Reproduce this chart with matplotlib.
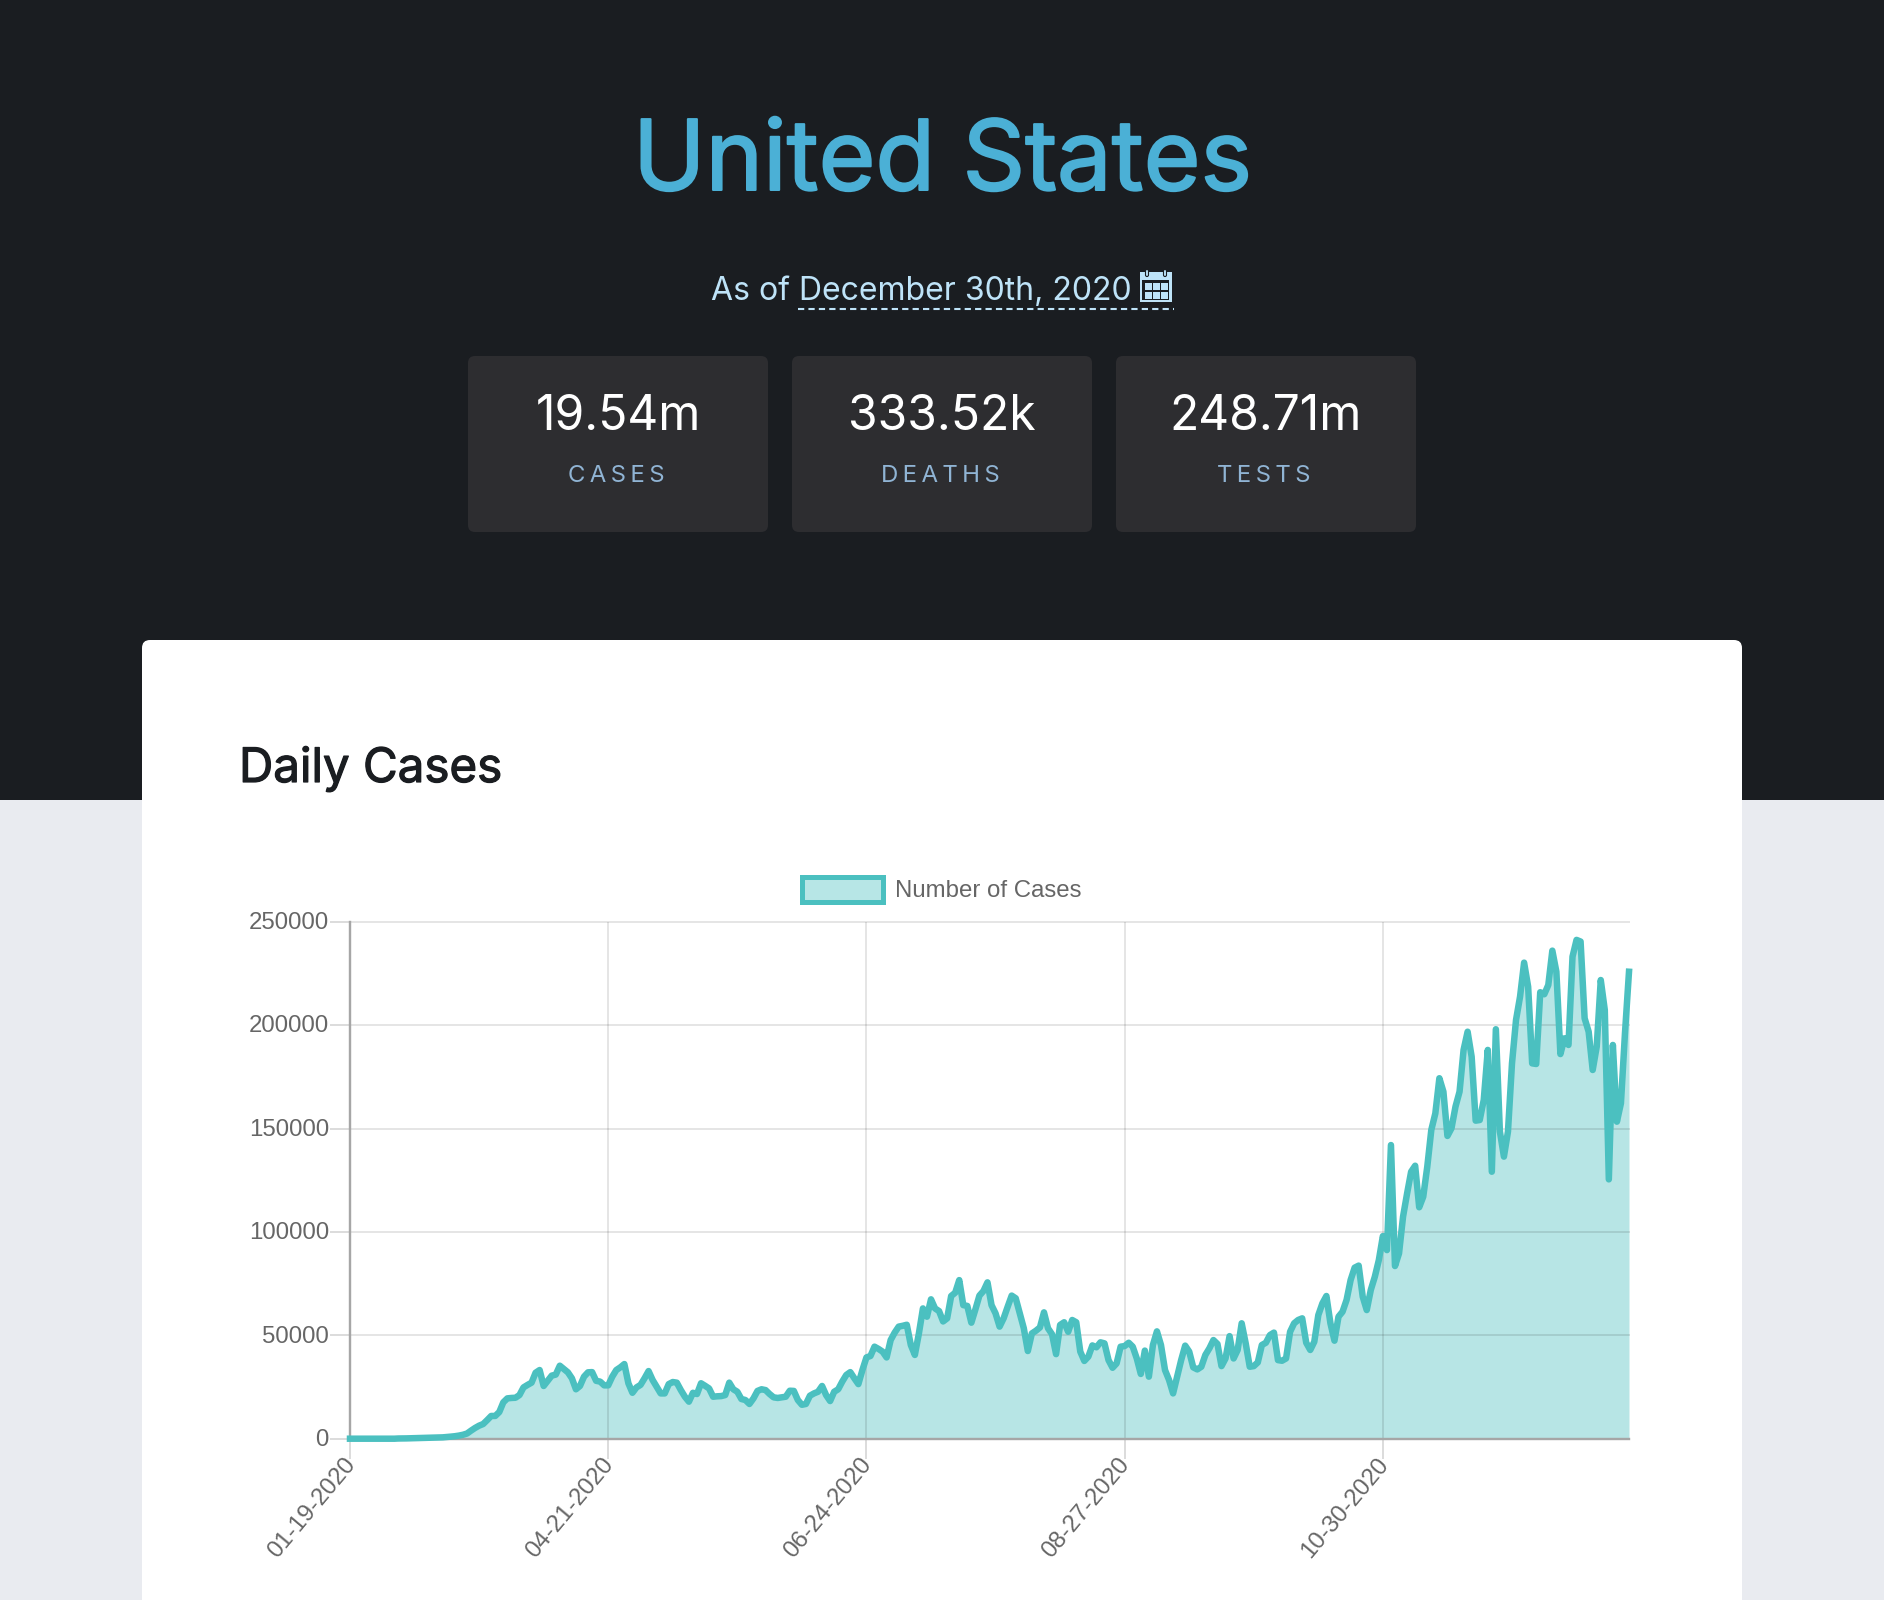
import matplotlib
matplotlib.use("Agg")
import matplotlib.pyplot as plt
import matplotlib.patheffects as pe
from matplotlib.patches import FancyBboxPatch, Rectangle
from matplotlib.transforms import ScaledTranslation

W, H = 1884, 1600

# ── Data ─────────────────────────────────────────────────────────────────────
daily_cases = [
    1, 0, 0, 0, 0, 0, 0, 0, 0, 0, 0, 0, 100, 100, 150, 200, 200, 300, 300, 350,
    400, 450, 550, 650, 800, 1000, 1200, 1500, 1900, 2500, 3900, 5200, 6300, 7100, 9000, 11000, 11000, 12900, 17600, 19500,
    19700, 19800, 21100, 24800, 26000, 27100, 31900, 33200, 25500, 28000, 30500, 31000, 35300, 33700, 32100, 29200, 23900, 25500, 30000, 32100,
    32200, 28000, 27600, 25800, 25800, 30000, 33200, 34500, 36100, 26800, 22200, 24800, 26000, 29200, 32700, 28400, 25100, 21900, 21900, 26400,
    27400, 27100, 23500, 20300, 17900, 22200, 21600, 26800, 25600, 24300, 20300, 20500, 20600, 21100, 27100, 23900, 22700, 19200, 18700, 16800,
    19500, 23100, 23900, 23500, 21600, 20000, 19700, 20000, 20300, 23200, 23100, 18700, 16400, 16800, 20800, 21900, 22700, 25500, 21100, 18200,
    22700, 23900, 27600, 30800, 32200, 29200, 26400, 33200, 39300, 40000, 44500, 43400, 42100, 39300, 47700, 51300, 54200, 54600, 55100, 45300,
    40500, 50900, 63000, 59000, 67400, 63000, 61700, 56700, 58200, 69000, 70600, 76700, 64600, 64200, 56100, 62500, 69200, 71400, 75600, 64600,
    60600, 54200, 58200, 63800, 69200, 67900, 60600, 53400, 42400, 50900, 52200, 53800, 61100, 53400, 50500, 40900, 55000, 56300, 51700, 57400,
    56300, 42100, 37600, 39700, 45100, 44200, 46600, 46100, 38000, 34300, 36400, 44500, 44800, 46400, 44500, 38800, 31300, 42600, 30000, 45300,
    51900, 45300, 33200, 28400, 21900, 30000, 38000, 45000, 42100, 34500, 33500, 34800, 40500, 43700, 47700, 45800, 35100, 38800, 49600, 38800,
    42900, 55800, 46100, 34800, 35100, 36900, 45300, 46400, 50100, 51300, 38000, 37700, 38800, 51700, 55800, 57400, 58200, 46400, 42900, 46900,
    59800, 65400, 69000, 55800, 47400, 59000, 61400, 67100, 76700, 82700, 83700, 68700, 62200, 71900, 78300, 86400, 98000, 91200, 142000, 83500,
    89600, 107400, 118600, 129100, 132000, 111900, 117000, 131500, 149300, 157300, 174300, 167800, 146400, 150100, 160600, 167800, 188000, 196800, 184700, 153800,
    154100, 163800, 188000, 129100, 198000, 148500, 136400, 148500, 181500, 202500, 213800, 230200, 218600, 181500, 181200, 215900, 214900, 219400, 236000, 225800,
    186000, 193600, 190400, 233100, 241200, 240400, 203300, 196800, 178300, 189600, 221800, 207300, 125400, 190400, 153300, 162200, 196000, 225800,
]
date_ticks = [0, 64, 128, 192, 256]
date_labels = ["01-19-2020", "04-21-2020", "06-24-2020", "08-27-2020", "10-30-2020"]
y_ticks = [0, 50000, 100000, 150000, 200000, 250000]
stat_values = ["19.54m", "333.52k", "248.71m"]
stat_names = ["C\u2009A\u2009S\u2009E\u2009S", "D\u2009E\u2009A\u2009T\u2009H\u2009S", "T\u2009E\u2009S\u2009T\u2009S"]

# ── Palette ──────────────────────────────────────────────────────────────────
DARK = "#1a1d21"
LIGHT = "#e9ebf0"
CARD = "#2d2d30"
BLUE = "#4bb0d6"
PALE = "#bee3f8"
MUTED = "#90b4d4"
TEAL = "#4bc0c0"
TICK = "#666666"
GRID_ALPHA = 0.1
AXIS = "#a6a6a6"

fig = plt.figure(figsize=(W / 100, H / 100), dpi=100, facecolor=LIGHT)


def px(size):
    return size * 0.72


def embolden(text, width):
    # Inter comes in one weight here, so thicken the glyphs with a stroke
    text.set_path_effects([pe.withStroke(linewidth=px(width), foreground=text.get_color())])


# page layer, drawn in pixels from the top left
page = fig.add_axes([0, 0, 1, 1])
page.set_xlim(0, W)
page.set_ylim(H, 0)
page.set_axis_off()

page.add_patch(Rectangle((0, 0), W, 800, fc=DARK, ec="none"))
page.add_patch(FancyBboxPatch((142, 640), 1600, 1000, boxstyle="round,pad=0,rounding_size=8",
                              fc="white", ec="none"))

title = page.text(942.5, 190, "United States", ha="center", va="baseline", fontsize=px(97.5),
                  family="Inter", color=BLUE)
embolden(title, 2)

# date line
page.text(711, 300, "As of December 30th, 2020", ha="left", va="baseline", fontsize=px(32),
          family="Inter", color=PALE)
page.plot([798, 1174], [309, 309], color=PALE, lw=1.5, ls=(0, (3, 2)))

# calendar icon
page.add_patch(Rectangle((1140, 272), 32, 30, fc=PALE, ec="none"))
page.add_patch(Rectangle((1142, 280), 27, 20, fc=DARK, ec="none"))
for cx in (1145, 1153, 1161):
    for cy in (283, 292):
        page.add_patch(Rectangle((cx, cy), 7, 7, fc=PALE, ec="none"))
for cx in (1145.5, 1163.5):
    page.add_patch(FancyBboxPatch((cx, 269.5), 3, 7, boxstyle="round,pad=0,rounding_size=1.5",
                                  fc=PALE, ec=DARK, lw=0.8))

# stat cards
for x0, value, name in zip((468, 792, 1116), stat_values, stat_names):
    page.add_patch(FancyBboxPatch((x0, 356), 300, 176, boxstyle="round,pad=0,rounding_size=7",
                                  fc=CARD, ec="none"))
    page.text(x0 + 150, 430, value, ha="center", va="baseline", fontsize=px(48),
              family="Inter", color="white")
    page.text(x0 + 148, 482, name, ha="center", va="baseline", fontsize=px(24),
              family="Inter", color=MUTED)

heading = page.text(239, 782, "Daily Cases", ha="left", va="baseline", fontsize=px(47.5),
                    family="Inter", color=DARK)
embolden(heading, 1.2)

# legend
page.add_patch(Rectangle((802, 877), 81, 25, fc="#b7e6e6", ec=TEAL, lw=px(5)))
page.text(895, 891, "Number of Cases", ha="left", va="center", fontsize=px(24),
          family="Liberation Sans", color=TICK)

# ── Chart ────────────────────────────────────────────────────────────────────
ax_left, ax_right, ax_top, ax_bottom = 350, 1629, 921.7, 1438.7
ax = fig.add_axes([ax_left / W, 1 - ax_bottom / H, (ax_right - ax_left) / W, (ax_bottom - ax_top) / H])
ax.patch.set_alpha(0)
days = range(len(daily_cases))
ax.fill_between(days, daily_cases, 0, color=TEAL, alpha=0.4, lw=0, zorder=2)
ax.plot(days, daily_cases, color=TEAL, lw=px(6.5), solid_joinstyle="round", clip_on=False, zorder=4)

ax.set_xlim(0, len(daily_cases) - 1)
ax.set_ylim(0, 250000)
ax.set_xticks(date_ticks)
ax.set_xticklabels(date_labels, rotation=50, ha="right", va="center", rotation_mode="anchor",
                   family="Liberation Sans", fontsize=px(24), color=TICK)
ax.set_yticks(y_ticks)
ax.set_yticklabels([str(v) for v in y_ticks], family="Liberation Sans", fontsize=px(24), color=TICK)
ax.tick_params(axis="both", length=px(20), width=px(2), color="#dcdcdc", pad=0)
ax.tick_params(axis="x", pad=px(2))
ax.grid(True, color="black", alpha=GRID_ALPHA, lw=px(2), zorder=3)
ax.set_axisbelow(False)
for gl in ax.get_ygridlines():
    gl.set_clip_on(False)

# nudge the tick labels to where the reference has them
for lab in ax.get_xticklabels():
    lab.set_transform(lab.get_transform() + ScaledTranslation(0.015, 0, fig.dpi_scale_trans))
for lab in ax.get_yticklabels():
    lab.set_transform(lab.get_transform() + ScaledTranslation(-0.01, 0.012, fig.dpi_scale_trans))

for side in ("top", "right"):
    ax.spines[side].set_visible(False)
for side in ("left", "bottom"):
    ax.spines[side].set_color(AXIS)
    ax.spines[side].set_linewidth(px(2.4))
    ax.spines[side].set_zorder(3.5)

fig.savefig("out.png", dpi=100, facecolor=LIGHT)
plt.close()
